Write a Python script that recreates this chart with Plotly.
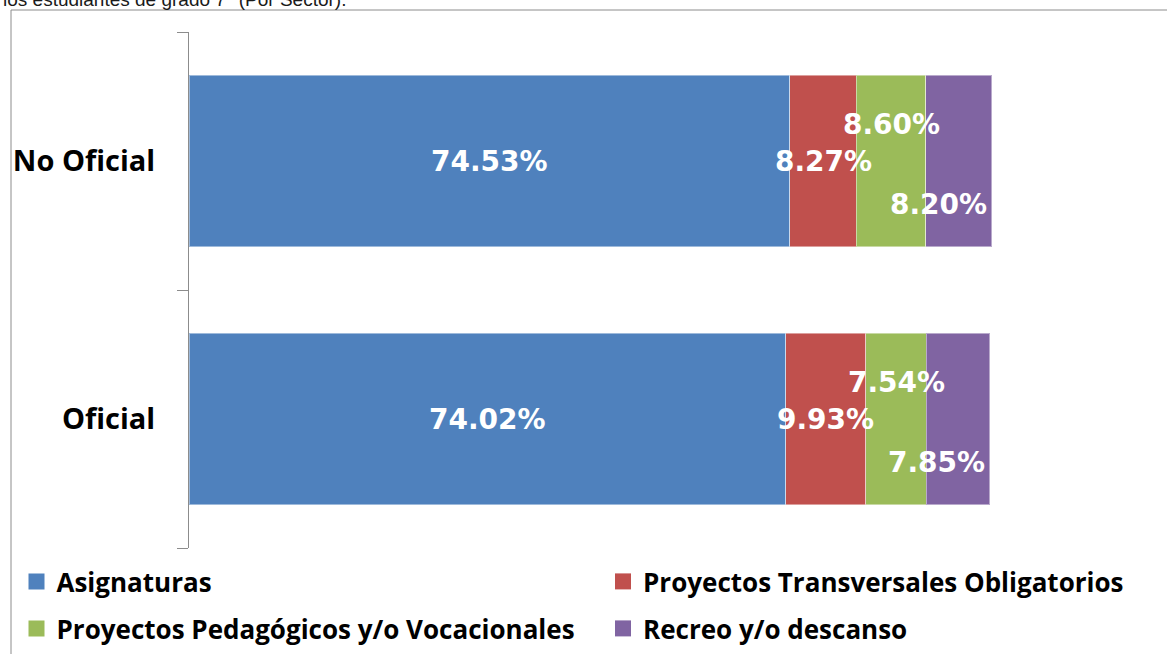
import plotly.graph_objects as go

categories = ["Oficial", "No Oficial"]
series_names = ["Asignaturas", "Proyectos Transversales Obligatorios",
                "Proyectos Pedagógicos y/o Vocacionales", "Recreo y/o descanso"]
asignaturas = [74.02, 74.53]
transversales = [9.93, 8.27]
pedagogicos = [7.54, 8.60]
recreo = [7.85, 8.20]
colors = ["#4F81BD", "#C0504D", "#9BBB59", "#8064A2"]
caption = "los estudiantes de grado 7° (Por Sector)."

series = [asignaturas, transversales, pedagogicos, recreo]

W, H = 1167, 654
L, R, T, B = 189, 172, 32, 106
pw, ph = W - L - R, H - T - B

fig = go.Figure()
for name, vals, col in zip(series_names, series, colors):
    fig.add_trace(go.Bar(
        y=categories, x=vals, orientation="h", name=name,
        marker=dict(color=col, line=dict(color="rgba(255,255,255,0.45)", width=1)),
        showlegend=False, hoverinfo="x+name",
    ))

# legend entries (two columns, two rows)
legend_ids = ["legend", "legend2", "legend3", "legend4"]
for name, col, lid in zip(series_names, colors, legend_ids):
    fig.add_trace(go.Scatter(
        x=[None], y=[None], mode="markers", name=name, legend=lid,
        marker=dict(symbol="square", size=16, color=col), showlegend=True,
    ))

# data labels
shifts = [(0, 0, "center"), (0, 0, "center"), (37, 0, "center"), (-43, -3, "right")]
annotations = []
for ci, cat in enumerate(categories):
    cum = 0.0
    for si, vals in enumerate(series):
        v = vals[ci]
        ys, xs, anchor = shifts[si]
        xpos = cum + v / 2 if anchor == "center" else cum + v
        annotations.append(dict(
            x=xpos, y=cat, xref="x", yref="y", text=f"{v:.2f}%", showarrow=False,
            xanchor=anchor, yanchor="middle", yshift=ys, xshift=xs,
            font=dict(family="DejaVu Sans", size=28, color="white", weight="bold"),
        ))
        cum += v


def px_x(p):
    return (p - L) / pw


def px_y(p):
    return (H - B - p) / ph


annotations.append(dict(
    x=px_x(1), y=px_y(0), xref="paper", yref="paper", text=caption, showarrow=False,
    xanchor="left", yanchor="middle",
    font=dict(family="Liberation Sans, Arial", size=19, color="#1a1a1a"),
))

shapes = [
    dict(type="line", xref="paper", yref="paper", x0=px_x(11), x1=px_x(11),
         y0=px_y(10), y1=px_y(H + 5), line=dict(color="#8c8c8c", width=1)),
    dict(type="line", xref="paper", yref="paper", x0=px_x(11), x1=px_x(W + 5),
         y0=px_y(10), y1=px_y(10), line=dict(color="#8c8c8c", width=1)),
]

leg_font = dict(family="Open Sans", size=26, color="black", weight="bold")
leg_pos = [(16.5, 581.5), (603, 581.5), (16.5, 628.5), (603, 628.5)]
legend_layouts = {}
for lid, (lx, ly) in zip(legend_ids, leg_pos):
    legend_layouts[lid] = dict(
        xref="container", yref="container", x=lx / W, y=1 - ly / H,
        xanchor="left", yanchor="middle", orientation="h",
        font=leg_font, bgcolor="rgba(0,0,0,0)",
    )

fig.update_layout(
    width=W, height=H, barmode="stack", bargap=0.337,
    margin=dict(l=L, r=R, t=T, b=B, autoexpand=False),
    plot_bgcolor="white", paper_bgcolor="white",
    xaxis=dict(range=[0, 100], visible=False, fixedrange=True),
    yaxis=dict(type="category", range=[-0.5, 1.5], tickson="boundaries",
               ticks="outside", ticklen=11, tickcolor="#8c8c8c", showline=True,
               linecolor="#8c8c8c", linewidth=1, showgrid=False,
               ticklabelstandoff=27,
               tickfont=dict(family="Open Sans", size=29, color="black", weight="bold")),
    annotations=annotations, shapes=shapes, showlegend=True,
    **legend_layouts,
)

fig.write_html("out.html", config={"displayModeBar": False},
               post_script="document.body.style.margin='0';")
